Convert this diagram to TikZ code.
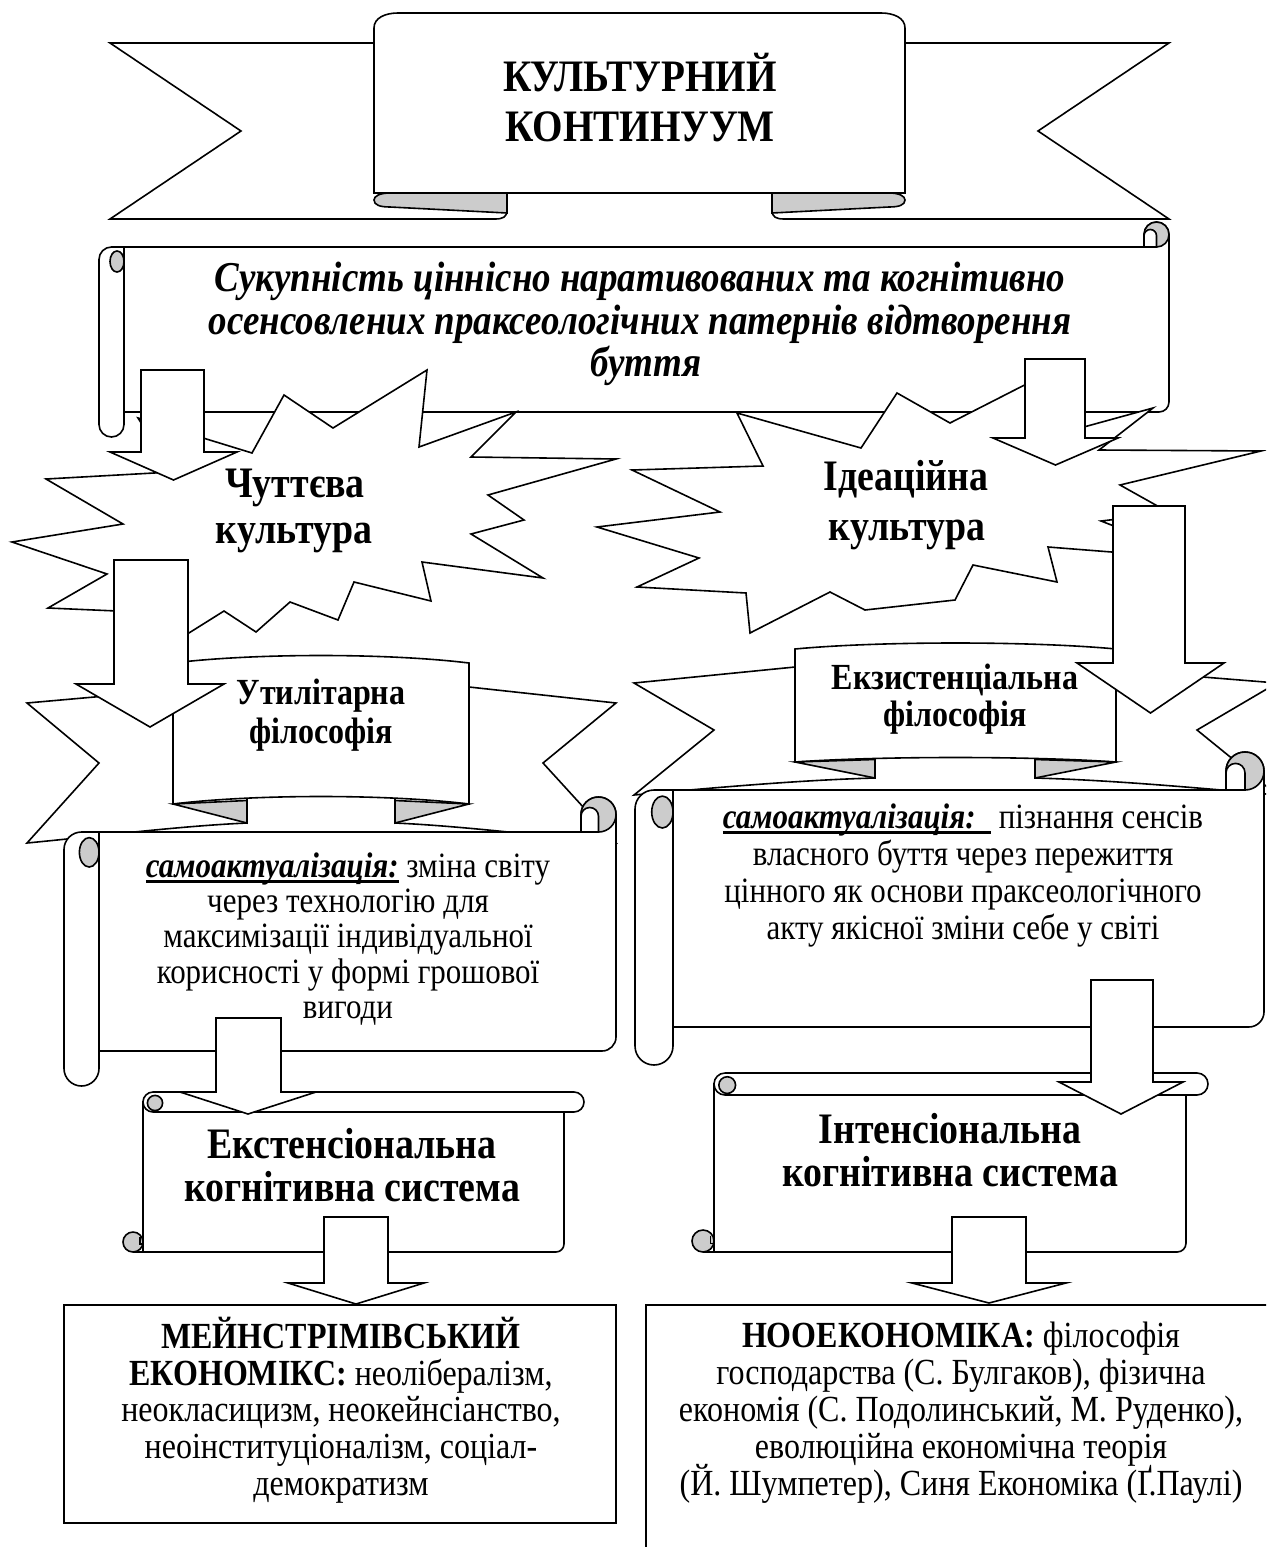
\documentclass[tikz,border=0pt]{standalone}
\usepackage{fontspec}
\setmainfont{Liberation Serif}[FakeStretch=0.87]
\tikzset{
 shp/.style={draw=black, line width=1.6pt, fill=white, line join=miter},
 fold/.style={draw=black, line width=1.6pt, fill=black!20},
 lbl/.style={anchor=base, inner sep=0pt},
}
\newcommand\fTitle{\fontsize{45}{50}\selectfont\bfseries}
\newcommand\fScroll{\fontsize{42.5}{48}\selectfont\bfseries\itshape}
\newcommand\fStar{\fontsize{43.5}{48}\selectfont\bfseries}
\newcommand\fRib{\fontsize{36.8}{40}\selectfont\bfseries}
\newcommand\fBody{\fontsize{35.6}{40}\selectfont}
\newcommand\fSys{\fontsize{43.5}{48}\selectfont\bfseries}
\newcommand\fBox{\fontsize{36.8}{40}\selectfont}
\newcommand\ulthick[1]{\setbox0=\hbox{#1}\rlap{\rule[-5.5pt]{\wd0}{2.8pt}}\box0\relax}
% horizontal scroll: l t r b c
\newcommand\hscroll[5]{%
 \pgfmathsetmacro\hsL{#1}\pgfmathsetmacro\hsT{#2}\pgfmathsetmacro\hsR{#3}%
 \pgfmathsetmacro\hsB{#4}\pgfmathsetmacro\hsC{#5}%
 \pgfmathsetmacro\hsYT{\hsT+\hsC}\pgfmathsetmacro\hsYB{\hsB-\hsC}%
 \filldraw[shp] ({\hsL+0.5*\hsC},\hsYT) -- ({\hsR-\hsC},\hsYT) -- ({\hsR-\hsC},{\hsT+0.5*\hsC})
   arc[start angle=180,end angle=360,radius=0.5*\hsC] -- (\hsR,{\hsYB-0.4*\hsC})
   arc[start angle=0,end angle=90,radius=0.4*\hsC] -- ({\hsL+\hsC},\hsYB) -- ({\hsL+\hsC},\hsYT) -- cycle;
 \filldraw[shp] ({\hsL+\hsC},{\hsYT+0.9*\hsC}) -- ({\hsL+\hsC},{\hsB-0.5*\hsC})
   arc[start angle=0,end angle=180,radius=0.5*\hsC] -- (\hsL,{\hsYT+0.5*\hsC})
   arc[start angle=180,end angle=270,radius=0.5*\hsC] -- ({\hsL+\hsC},\hsYT) -- cycle;
 \filldraw[fold] ({\hsL+0.72*\hsC},{\hsYT+0.58*\hsC}) ellipse[x radius=0.28*\hsC,y radius=0.42*\hsC];
 \filldraw[fold] ({\hsR-0.5*\hsC},{\hsT+0.5*\hsC}) circle[radius=0.5*\hsC];
 \filldraw[shp] ({\hsR-\hsC},\hsYT) -- ({\hsR-\hsC},{\hsT+0.55*\hsC})
   arc[start angle=180,end angle=360,radius=0.25*\hsC] -- ({\hsR-0.5*\hsC},\hsYT) -- cycle;
}
% vertical scroll: L T R B c
\newcommand\vscroll[5]{%
 \pgfmathsetmacro\vsL{#1}\pgfmathsetmacro\vsT{#2}\pgfmathsetmacro\vsR{#3}%
 \pgfmathsetmacro\vsB{#4}\pgfmathsetmacro\vsC{#5}%
 \filldraw[shp] (\vsL,{\vsT+0.5*\vsC}) -- (\vsL,\vsB) -- ({\vsR-1.4*\vsC},\vsB)
   arc[start angle=90,end angle=0,radius=0.4*\vsC] -- ({\vsR-\vsC},{\vsT+0.5*\vsC}) -- cycle;
 \draw[line width=1.6pt] ({\vsL-0.5*\vsC},\vsB) -- (\vsL,\vsB);
 \filldraw[shp] ({\vsL+0.5*\vsC},\vsT) -- ({\vsR-0.5*\vsC},\vsT)
   arc[start angle=270,end angle=450,radius=0.5*\vsC] -- ({\vsL+0.5*\vsC},{\vsT+\vsC})
   arc[start angle=90,end angle=270,radius=0.5*\vsC] -- cycle;
 \filldraw[fold] ({\vsL+0.6*\vsC},{\vsT+0.55*\vsC}) circle[radius=0.38*\vsC];
 \filldraw[fold] ({\vsL-0.5*\vsC},{\vsB-0.5*\vsC}) circle[radius=0.5*\vsC];
 \draw[line width=1.2pt] ({\vsL-0.15*\vsC},{\vsB-0.75*\vsC}) -- ({\vsL-0.15*\vsC},{\vsB-0.4*\vsC}) -- (\vsL,{\vsB-0.4*\vsC});
}
% block arrow: xl xr top headbase headl headr tip
\newcommand\barrow[7]{%
 \filldraw[shp] (#1,#3) -- (#2,#3) -- (#2,#4) -- (#6,#4) -- ({(#5+#6)/2},#7) -- (#5,#4) -- (#1,#4) -- cycle;}
\begin{document}
\begin{tikzpicture}[x=1pt,y=-1pt]
\useasboundingbox (0,0) rectangle (1266,1547);
\fill[white] (0,0) rectangle (1266,1547);
\clip (0,0) rectangle (1266,1547);

% ---------- top banner
\filldraw[shp] (110,43) -- (374,43) -- (374,193) -- (507,193) -- (507,210) .. controls (507,217) and (503,219) .. (495,219) -- (110,219) -- (241,131) -- cycle;
\filldraw[shp] (1169,43) -- (905,43) -- (905,193) -- (772,193) -- (772,210) .. controls (772,217) and (776,219) .. (784,219) -- (1169,219) -- (1038,131) -- cycle;
\filldraw[shp] (374,193) -- (374,28) .. controls (374,18) and (385,13) .. (398,13) -- (881,13) .. controls (894,13) and (905,18) .. (905,28) -- (905,193) -- cycle;
\filldraw[fold] (507,193) -- (390,193) .. controls (380,193) and (374,196) .. (374,200) .. controls (374,205) and (380,207) .. (390,207) -- (507,213) -- cycle;
\filldraw[fold] (772,193) -- (889,193) .. controls (899,193) and (905,196) .. (905,200) .. controls (905,205) and (899,207) .. (889,207) -- (772,213) -- cycle;

% ---------- scroll 1
\hscroll{99}{222}{1169}{437}{25}

% ---------- stars
\filldraw[shp] (284,395) -- (333,428) -- (427,370) -- (419,447) -- (516,412) -- (471,457) -- (616,459) -- (488,495) -- (524,520) -- (471,534) -- (543,578) -- (422,562) -- (431,601) -- (354,582) -- (338,620) -- (290,602) -- (256,632) -- (224,611) -- (165,648) -- (140,612) -- (48,608) -- (107,574) -- (12,542) -- (123,524) -- (46,479) -- (172,472) -- (138,418) -- (252,453) -- cycle;
\filldraw[shp] (897,393) -- (950,423) -- (1050,372) -- (1062,433) -- (1153,408) -- (1099,450) -- (1261,451) -- (1120,485) -- (1170,513) -- (1101,521) -- (1150,540) -- (1175,557) -- (1048,547) -- (1057,582) -- (973,565) -- (955,600) -- (865,610) -- (830,592) -- (750,633) -- (746,593) -- (637,587) -- (699,558) -- (597,527) -- (720,512) -- (632,470) -- (763,466) -- (737,413) -- (861,448) -- cycle;

% ---------- arrows 1
\barrow{141}{204}{370}{452}{110}{237}{480}
\barrow{1025}{1085}{359}{438}{993}{1118}{465}

% ---------- ribbons
\filldraw[shp] (173,690) -- (27,703) -- (99,763) -- (27,843) .. controls (100,836) and (180,826) .. (247,823) -- (247,700) -- cycle;
\filldraw[shp] (469,687) -- (616,703) -- (543,763) -- (616,843) .. controls (543,836) and (462,826) .. (395,823) -- (395,700) -- cycle;
\filldraw[shp] (173,663) .. controls (255,653) and (387,653) .. (469,663) -- (469,804) .. controls (387,794) and (255,794) .. (173,804) -- cycle;
\filldraw[fold] (173,804) -- (247,800.5) -- (247,823) -- cycle;
\filldraw[fold] (469,804) -- (395,800.5) -- (395,823) -- cycle;

\filldraw[shp] (795,667) -- (634,683) -- (714,730) -- (634,795) .. controls (710,788) and (800,780) .. (875,778) -- (875,690) -- cycle;
\filldraw[shp] (1116,670) -- (1277,683) -- (1197,730) -- (1277,795) .. controls (1200,788) and (1110,780) .. (1035,778) -- (1035,690) -- cycle;
\filldraw[shp] (795,649) .. controls (880,641) and (1031,641) .. (1116,649) -- (1116,762) .. controls (1031,756) and (880,756) .. (795,762) -- cycle;
\filldraw[fold] (795,762) -- (875,759.5) -- (875,778) -- cycle;
\filldraw[fold] (1116,762) -- (1035,759.5) -- (1035,778) -- cycle;

% ---------- arrows 2
\barrow{114}{188}{560}{684}{76}{224}{727}
\barrow{1113}{1185}{506}{663}{1077}{1224}{713}

% ---------- self-actualisation scrolls
\hscroll{64}{797}{616}{1086}{35}
\hscroll{635}{752}{1264}{1065}{38}

% ---------- cognitive system scrolls
\vscroll{143}{1092}{584}{1252}{20}
\vscroll{714}{1073}{1208}{1252}{22}

% ---------- arrows 3
\barrow{216}{281}{1018}{1092}{180}{316}{1114}
\barrow{1091}{1153}{980}{1082}{1059}{1183}{1114}

% ---------- boxes
\draw[shp] (64,1305) rectangle (616,1523);
\draw[shp] (646,1305) rectangle (1290,1570);

% ---------- arrows 4
\barrow{324}{388}{1217}{1283}{288}{424}{1304}
\barrow{952}{1026}{1217}{1283}{912}{1066}{1303}

% ---------- texts
\node[lbl,font=\fTitle] (t1) at (640,91) {КУЛЬТУРНИЙ};
\node[lbl,font=\fTitle] (t2) at (640,141) {КОНТИНУУМ};
\node[lbl,font=\fScroll] (s1) at (640,291) {Сукупність ціннісно наративованих та когнітивно};
\node[lbl,font=\fScroll] (s2) at (640,334) {осенсовлених праксеологічних патернів відтворення};
\node[lbl,font=\fScroll] (s3) at (646,376) {буття};
\node[lbl,font=\fStar] (c1) at (295,497) {Чуттєва};
\node[lbl,font=\fStar] (c2) at (294,543) {культура};
\node[lbl,font=\fStar] (c3) at (906,490) {Ідеаційна};
\node[lbl,font=\fStar] (c4) at (907,540) {культура};
\node[lbl,font=\fRib] (p1) at (321,704) {Утилітарна};
\node[lbl,font=\fRib] (p2) at (321,743) {філософія};
\node[lbl,font=\fRib] (p3) at (955,689) {Екзистенціальна};
\node[lbl,font=\fRib] (p4) at (955,726) {філософія};
\node[lbl,font=\fBody] (a1) at (348,877) {\ulthick{\textbf{\textit{самоактуалізація:}}} зміна світу};
\node[lbl,font=\fBody] (a2) at (348,912) {через технологію для};
\node[lbl,font=\fBody] (a3) at (348,947) {максимізації індивідуальної};
\node[lbl,font=\fBody] (a4) at (348,983) {корисності у формі грошової};
\node[lbl,font=\fBody] (a5) at (348,1018) {вигоди};
\node[lbl,font=\fBody] (b1) at (963,828) {\ulthick{\textbf{\textit{самоактуалізація:}}\ \ }\ пізнання сенсів};
\node[lbl,font=\fBody] (b2) at (963,865) {власного буття через пережиття};
\node[lbl,font=\fBody] (b3) at (963,902) {цінного як основи праксеологічного};
\node[lbl,font=\fBody] (b4) at (963,939) {акту якісної зміни себе у світі};
\node[lbl,font=\fSys] (e1) at (352,1158) {Екстенсіональна};
\node[lbl,font=\fSys] (e2) at (352,1201) {когнітивна система};
\node[lbl,font=\fSys] (i1) at (950,1143) {Інтенсіональна};
\node[lbl,font=\fSys] (i2) at (950,1186) {когнітивна система};
\node[lbl,font=\fBox] (m1) at (341,1348) {\textbf{МЕЙНСТРІМІВСЬКИЙ}};
\node[lbl,font=\fBox] (m2) at (341,1385) {\textbf{ЕКОНОМІКС:} неолібералізм,};
\node[lbl,font=\fBox] (m3) at (341,1421) {неокласицизм, неокейнсіанство,};
\node[lbl,font=\fBox] (m4) at (341,1458) {неоінституціоналізм, соціал-};
\node[lbl,font=\fBox] (m5) at (341,1495) {демократизм};
\node[lbl,font=\fBox] (n1) at (961,1347) {\textbf{НООЕКОНОМІКА:} філософія};
\node[lbl,font=\fBox] (n2) at (961,1384) {господарства (С. Булгаков), фізична};
\node[lbl,font=\fBox] (n3) at (961,1421) {економія (С. Подолинський, М. Руденко),};
\node[lbl,font=\fBox] (n4) at (961,1458) {еволюційна економічна теорія};
\node[lbl,font=\fBox] (n5) at (961,1495) {(Й. Шумпетер), Синя Економіка (Ґ.Паулі)};
\end{tikzpicture}
\end{document}
